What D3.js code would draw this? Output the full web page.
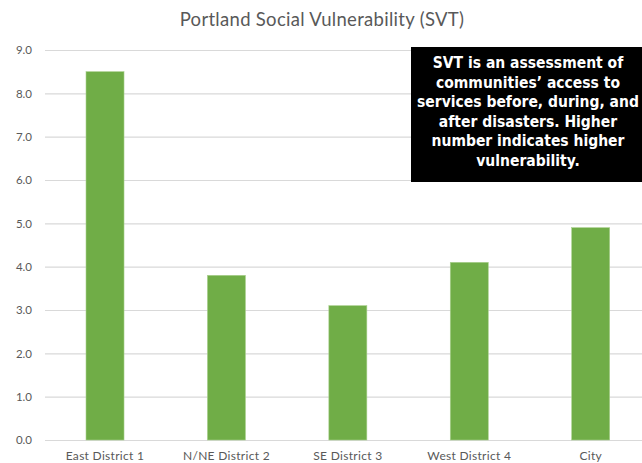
<!DOCTYPE html>
<html>
<head>
<meta charset="utf-8">
<script src="https://cdn.jsdelivr.net/npm/d3@7"></script>
<style>
  html, body { margin: 0; padding: 0; background: #fff; }
  svg { display: block; }
</style>
</head>
<body>
<svg id="container"></svg>
<script>
const categories = ["East District 1", "N/NE District 2", "SE District 3", "West District 4", "City"];
const svtValues = [8.5, 3.8, 3.1, 4.1, 4.9];
const yTicks = [0, 1, 2, 3, 4, 5, 6, 7, 8, 9];
const noteLines = [
  "SVT is an assessment of",
  "communities\u2019 access to",
  "services before, during, and",
  "after disasters. Higher",
  "number indicates higher",
  "vulnerability."
];

const width = 642, height = 463;
const margin = { top: 50, right: 0, bottom: 23, left: 45 };
const grey = "#595959";

const svg = d3.select("#container")
  .attr("width", width)
  .attr("height", height)
  .attr("viewBox", `0 0 ${width} ${height}`);

const x = d3.scaleBand()
  .domain(categories)
  .range([44.3, 651.4])
  .paddingInner(0.687)
  .paddingOuter(0.3435);

const y = d3.scaleLinear()
  .domain([0, 9])
  .range([height - margin.bottom, margin.top]);

// title
svg.append("text")
  .attr("x", 322)
  .attr("y", 26)
  .attr("text-anchor", "middle")
  .attr("font-family", "Lato, sans-serif")
  .attr("font-size", 18.5)
  .attr("letter-spacing", 0.3)
  .attr("fill", grey)
  .text("Portland Social Vulnerability (SVT)");

// gridlines + y labels
const yAxis = svg.append("g")
  .attr("transform", `translate(${margin.left},0)`)
  .call(d3.axisLeft(y).tickValues(yTicks).tickFormat(d3.format(".1f"))
    .tickSize(-(width - margin.left)).tickPadding(13));
yAxis.select(".domain").remove();
yAxis.selectAll(".tick line").attr("stroke", "#d9d9d9").attr("stroke-width", 1.2);
yAxis.selectAll(".tick text")
  .attr("fill", grey)
  .attr("font-family", "Lato, sans-serif")
  .attr("font-size", 11.5);

// bars
svg.append("g")
  .selectAll("rect")
  .data(categories)
  .join("rect")
  .attr("x", d => x(d))
  .attr("y", (d, i) => y(svtValues[i]))
  .attr("width", x.bandwidth())
  .attr("height", (d, i) => y(0) - y(svtValues[i]))
  .attr("fill", "#70ad47")
  .attr("stroke", "#a9d08e")
  .attr("stroke-width", 0.6);

// category labels
svg.append("g")
  .selectAll("text")
  .data(categories)
  .join("text")
  .attr("x", d => x(d) + x.bandwidth() / 2)
  .attr("y", 459.5)
  .attr("text-anchor", "middle")
  .attr("font-family", "Lato, sans-serif")
  .attr("font-size", 12)
  .attr("letter-spacing", 0.3)
  .attr("fill", grey)
  .text(d => d);

// note box
svg.append("rect")
  .attr("x", 411)
  .attr("y", 47)
  .attr("width", 231)
  .attr("height", 135)
  .attr("fill", "#000");

svg.append("g")
  .selectAll("text")
  .data(noteLines)
  .join("text")
  .attr("x", 528)
  .attr("y", (d, i) => 68 + i * 19.5)
  .attr("text-anchor", "middle")
  .attr("font-family", "'DejaVu Sans Condensed', 'DejaVu Sans', sans-serif")
  .attr("font-stretch", "condensed")
  .attr("font-weight", "bold")
  .attr("font-size", 15.5)
  .attr("fill", "#fff")
  .text(d => d);
</script>
</body>
</html>
